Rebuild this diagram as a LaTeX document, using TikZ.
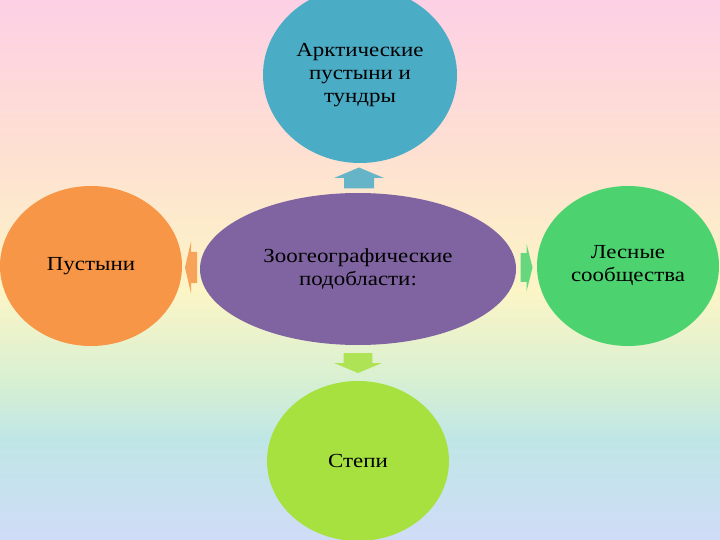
\documentclass[tikz,border=0pt]{standalone}
\usepackage{fontspec}
\setmainfont{Liberation Serif}[FakeStretch=1.15]
\usetikzlibrary{shapes.geometric,calc}
\definecolor{zblue}{HTML}{4BACC6}
\definecolor{zpurple}{HTML}{8064A2}
\definecolor{zorange}{HTML}{F79646}
\definecolor{zgreen}{HTML}{4CD370}
\definecolor{zlime}{HTML}{A6E140}
\definecolor{bgA}{HTML}{FDD0E5}
\definecolor{bgB}{HTML}{FEE0D2}
\definecolor{bgC}{HTML}{FCF5C6}
\definecolor{bgD}{HTML}{D8F0D2}
\definecolor{bgE}{HTML}{BFE6E6}
\definecolor{bgF}{HTML}{D0DCF7}
\tikzset{
  region/.style = {ellipse, inner sep=0pt, align=center, text=black,
                   font=\fontsize{20}{23}\selectfont},
  pics/blockarrow/.style = {code={
      \fill[fill opacity=0.85, #1] (-0.5,-0.3) -- (0,-0.3) -- (0,-0.5) -- (0.5,0)
            -- (0,0.5) -- (0,0.3) -- (-0.5,0.3) -- cycle;}}
}
\begin{document}
\begin{tikzpicture}[x=1bp,y=-1bp]
    % background
    \useasboundingbox (0,0) rectangle (720,540);
    \shade[top color=bgA, bottom color=bgB] (0,0) rectangle (720,150);
    \shade[top color=bgB, bottom color=bgC] (0,150) rectangle (720,290);
    \shade[top color=bgC, bottom color=bgD] (0,290) rectangle (720,380);
    \shade[top color=bgD, bottom color=bgE] (0,380) rectangle (720,440);
    \shade[top color=bgE, bottom color=bgF] (0,440) rectangle (720,540);
    % regions
    \node[region, fill=zpurple, minimum width=316bp, minimum height=152bp] (zoo) at (358,269)
        {Зоогеографические\\подобласти:};
    \node[region, fill=zblue, minimum width=194bp, minimum height=176bp] (arct) at (360,75)
        {Арктические\\пустыни и\\тундры};
    \node[region, fill=zorange, minimum width=182bp, minimum height=160bp] (desert) at (91,266)
        {Пустыни};
    \node[region, fill=zgreen, minimum width=182bp, minimum height=160bp] (forest) at (628,266)
        {Лесные\\сообщества};
    \node[region, fill=zlime, minimum width=182bp, minimum height=160bp] (steppe) at (358,461)
        {Степи};
    % arrows
    \coordinate (up) at ($(arct.south)!0.5!(zoo.north)$);
    \coordinate (down) at ($(zoo.south)!0.5!(steppe.north)$);
    \coordinate (left) at ($(desert.east)!0.5!(zoo.west)$);
    \coordinate (right) at ($(zoo.east)!0.5!(forest.west)$);
    \pic[rotate=90, xscale=21, yscale=50] at (up) {blockarrow=zblue};
    \pic[rotate=-90, xscale=20, yscale=48] at (down) {blockarrow=zlime};
    \pic[rotate=180, xscale=12, yscale=52] at (left) {blockarrow=zorange};
    \pic[xscale=12, yscale=48] at (right) {blockarrow=zgreen};
\end{tikzpicture}
\end{document}
